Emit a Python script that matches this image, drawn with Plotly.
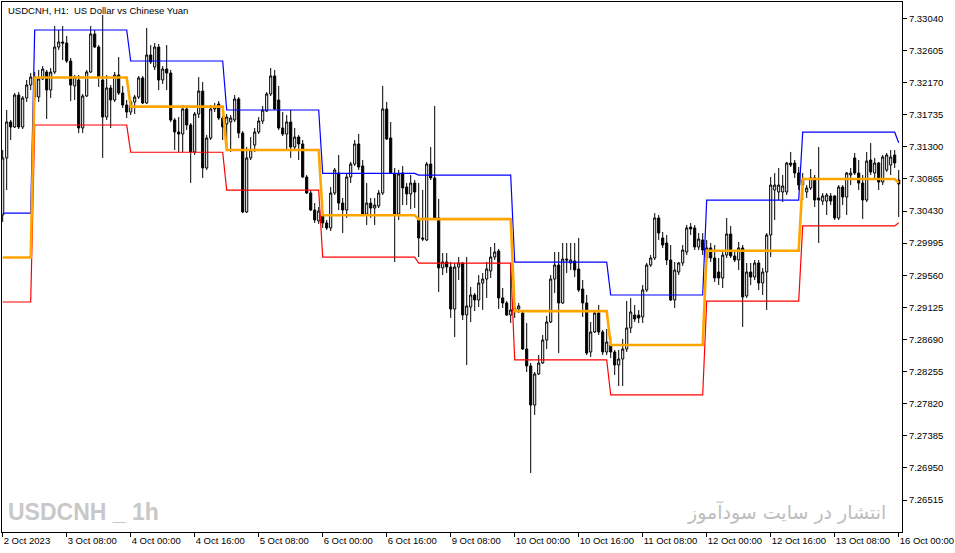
import plotly.graph_objects as go

# ---- OHLC data (USDCNH, H1) ----
open_ = [7.30376, 7.31149, 7.31636, 7.31568, 7.32001, 7.31568, 7.31961, 7.32137, 7.32245, 7.31974,
         7.32218, 7.32313, 7.32069, 7.32313, 7.32651, 7.32719, 7.32705, 7.32461, 7.32124, 7.32205,
         7.31555, 7.31988, 7.32313, 7.32828, 7.32651, 7.32205, 7.31703, 7.32097, 7.31934, 7.32272,
         7.32028, 7.31866, 7.31771, 7.31907, 7.31974, 7.32232, 7.31893, 7.32543, 7.32380, 7.32651,
         7.32205, 7.32353, 7.32299, 7.31663, 7.31500, 7.31473, 7.31812, 7.31595, 7.31230, 7.31744,
         7.32055, 7.31013, 7.31419, 7.31812, 7.31880, 7.31690, 7.31609, 7.31636, 7.31663, 7.31947,
         7.31486, 7.30417, 7.31149, 7.31324, 7.31500, 7.31649, 7.31784, 7.32015, 7.32259, 7.31934,
         7.31555, 7.31473, 7.31636, 7.31297, 7.31432, 7.31338, 7.30891, 7.30674, 7.30444, 7.30295,
         7.30363, 7.30268, 7.30201, 7.30674, 7.30945, 7.30538, 7.30444, 7.30891, 7.31067, 7.31338,
         7.31040, 7.30390, 7.30538, 7.30471, 7.30498, 7.30674, 7.31812, 7.31419, 7.30932, 7.30390,
         7.30945, 7.30755, 7.30661, 7.30809, 7.30309, 7.30065, 7.30038, 7.31067, 7.30878, 7.30336,
         7.29659, 7.29740, 7.29672, 7.29103, 7.29672, 7.29726, 7.29022, 7.29130, 7.29293, 7.29225,
         7.29455, 7.29509, 7.29617, 7.29807, 7.29888, 7.29253, 7.29184, 7.29022, 7.29090, 7.29103,
         7.29049, 7.28561, 7.28332, 7.27803, 7.28223, 7.28372, 7.28683, 7.28927, 7.29509, 7.29699,
         7.29184, 7.29780, 7.29726, 7.29753, 7.29645, 7.29374, 7.29184, 7.28521, 7.28792, 7.29049,
         7.28792, 7.28521, 7.28615, 7.28521, 7.28345, 7.28426, 7.28561, 7.28846, 7.29022, 7.29022,
         7.28995, 7.29361, 7.29699, 7.29794, 7.30336, 7.30065, 7.29997, 7.29767, 7.29225, 7.29604,
         7.29726, 7.29875, 7.30214, 7.30201, 7.29943, 7.30038, 7.29794, 7.29930, 7.29794, 7.29604,
         7.29523, 7.29834, 7.30119, 7.29821, 7.29767, 7.29930, 7.29280, 7.29604, 7.29536, 7.29726,
         7.29455, 7.29604, 7.30105, 7.30715, 7.30688, 7.30688, 7.30688, 7.31080, 7.31080, 7.30945,
         7.30782, 7.30688, 7.30742, 7.30878, 7.30607, 7.30565, 7.30565, 7.30634, 7.30634, 7.30336,
         7.30755, 7.30620, 7.30918, 7.31149, 7.30945, 7.30809, 7.30579, 7.31121, 7.30945, 7.31080,
         7.30823, 7.30986, 7.31053, 7.31189, 7.30850]

high_ = [7.31257, 7.31798, 7.31663, 7.32028, 7.32042, 7.31988, 7.32205, 7.32299, 7.32313, 7.32340,
         7.32394, 7.32340, 7.32367, 7.32936, 7.32882, 7.32936, 7.32801, 7.32503, 7.32272, 7.32272,
         7.32015, 7.32340, 7.32936, 7.32882, 7.32678, 7.33085, 7.32272, 7.32137, 7.32313, 7.32516,
         7.32124, 7.31934, 7.31934, 7.32001, 7.32259, 7.32259, 7.32909, 7.32678, 7.32705, 7.32692,
         7.32394, 7.32678, 7.32340, 7.31690, 7.31703, 7.31866, 7.31839, 7.31622, 7.31771, 7.32245,
         7.32178, 7.31459, 7.31866, 7.31893, 7.31920, 7.31717, 7.31744, 7.31730, 7.32001, 7.31974,
         7.31513, 7.31297, 7.31432, 7.31555, 7.31703, 7.31853, 7.32042, 7.32367, 7.32340, 7.32124,
         7.31771, 7.31730, 7.31798, 7.31555, 7.31459, 7.31392, 7.30918, 7.30715, 7.30538, 7.30484,
         7.30417, 7.30309, 7.30755, 7.31013, 7.31189, 7.30607, 7.30945, 7.31094, 7.31392, 7.31473,
         7.31121, 7.30809, 7.30607, 7.30607, 7.30715, 7.32124, 7.31907, 7.31636, 7.31013, 7.30986,
         7.31040, 7.30809, 7.30918, 7.30850, 7.30809, 7.30715, 7.31094, 7.31297, 7.31853, 7.30593,
         7.29861, 7.29861, 7.29740, 7.29726, 7.29807, 7.29740, 7.29807, 7.29401, 7.29320, 7.29563,
         7.29590, 7.29740, 7.29943, 7.29997, 7.29916, 7.29388, 7.29211, 7.29726, 7.29184, 7.29184,
         7.29090, 7.28913, 7.28372, 7.28250, 7.28480, 7.28751, 7.29009, 7.29563, 7.29875, 7.29875,
         7.29997, 7.29997, 7.29997, 7.29997, 7.30065, 7.29496, 7.29293, 7.28927, 7.29090, 7.29157,
         7.28819, 7.28832, 7.28724, 7.28548, 7.28548, 7.28697, 7.29211, 7.29253, 7.29157, 7.29090,
         7.29428, 7.29726, 7.29834, 7.30403, 7.30376, 7.30146, 7.30105, 7.29970, 7.29740, 7.29740,
         7.29970, 7.30241, 7.30268, 7.30241, 7.30132, 7.30132, 7.30038, 7.29997, 7.29970, 7.29794,
         7.29875, 7.30336, 7.30228, 7.29902, 7.30011, 7.29970, 7.29726, 7.29726, 7.29767, 7.29767,
         7.29659, 7.30132, 7.30891, 7.30945, 7.31013, 7.30918, 7.31094, 7.31230, 7.31121, 7.31026,
         7.30945, 7.30782, 7.30999, 7.30918, 7.31297, 7.30674, 7.30674, 7.30674, 7.30647, 7.30782,
         7.30782, 7.30959, 7.31013, 7.31216, 7.31121, 7.30918, 7.31230, 7.31351, 7.31149, 7.31094,
         7.31189, 7.31216, 7.31257, 7.31257, 7.30986]

low_ = [7.30282, 7.30715, 7.31392, 7.31555, 7.31541, 7.31541, 7.31907, 7.32069, 7.31934, 7.31907,
        7.32205, 7.31676, 7.31961, 7.32286, 7.32611, 7.32475, 7.32434, 7.31920, 7.31934, 7.31486,
        7.31486, 7.31974, 7.32299, 7.32638, 7.32110, 7.31149, 7.31663, 7.31555, 7.31907, 7.32001,
        7.31826, 7.31690, 7.31730, 7.31744, 7.31947, 7.31880, 7.31880, 7.32421, 7.32340, 7.32069,
        7.32151, 7.32069, 7.31636, 7.31257, 7.31230, 7.31230, 7.31527, 7.30809, 7.31189, 7.31690,
        7.30878, 7.30986, 7.31392, 7.31771, 7.31663, 7.31392, 7.31257, 7.31230, 7.31636, 7.31419,
        7.30403, 7.30403, 7.31121, 7.31230, 7.31473, 7.31609, 7.31771, 7.31988, 7.31798, 7.31527,
        7.31446, 7.31257, 7.31149, 7.31257, 7.31121, 7.30878, 7.30661, 7.30430, 7.30268, 7.30255,
        7.30201, 7.30173, 7.30159, 7.30647, 7.30444, 7.30132, 7.30336, 7.30809, 7.31040, 7.30986,
        7.30376, 7.30241, 7.30336, 7.30241, 7.30471, 7.30647, 7.31392, 7.30932, 7.29740, 7.30309,
        7.30511, 7.30511, 7.30457, 7.30471, 7.29807, 7.30024, 7.30024, 7.30850, 7.30309, 7.29334,
        7.29563, 7.29590, 7.28982, 7.28724, 7.29496, 7.28954, 7.28345, 7.28927, 7.29076, 7.29130,
        7.29090, 7.29253, 7.29523, 7.29767, 7.29103, 7.29117, 7.29009, 7.28913, 7.28982, 7.29049,
        7.28548, 7.28250, 7.26882, 7.27667, 7.28209, 7.28359, 7.28561, 7.28913, 7.29320, 7.28507,
        7.29171, 7.29590, 7.29631, 7.29536, 7.29334, 7.28995, 7.28480, 7.28453, 7.28778, 7.28751,
        7.28480, 7.28480, 7.28440, 7.28209, 7.28061, 7.28061, 7.28521, 7.28778, 7.28927, 7.28913,
        7.28913, 7.29334, 7.29672, 7.29767, 7.30038, 7.29930, 7.29699, 7.29211, 7.29117, 7.29563,
        7.29686, 7.29834, 7.30105, 7.29902, 7.29902, 7.29834, 7.29740, 7.29740, 7.29469, 7.29428,
        7.29388, 7.29794, 7.29794, 7.29740, 7.29631, 7.28859, 7.29253, 7.29428, 7.29496, 7.29361,
        7.29293, 7.29090, 7.29807, 7.30309, 7.30579, 7.30552, 7.30647, 7.31026, 7.30878, 7.30715,
        7.30579, 7.30607, 7.30715, 7.30484, 7.29997, 7.30511, 7.30376, 7.30511, 7.30309, 7.30309,
        7.30511, 7.30376, 7.30782, 7.30918, 7.30715, 7.30322, 7.30552, 7.30918, 7.30850, 7.30715,
        7.30782, 7.30959, 7.30918, 7.31013, 7.30349]

close_ = [7.31149, 7.31636, 7.31568, 7.32001, 7.31568, 7.31961, 7.32137, 7.32245, 7.31974, 7.32218,
          7.32353, 7.32069, 7.32313, 7.32651, 7.32719, 7.32705, 7.32461, 7.32137, 7.32245, 7.31555,
          7.31988, 7.32313, 7.32828, 7.32651, 7.32245, 7.31703, 7.32097, 7.31934, 7.32272, 7.32028,
          7.31866, 7.31771, 7.31907, 7.31974, 7.32232, 7.31893, 7.32543, 7.32448, 7.32651, 7.32205,
          7.32353, 7.32299, 7.31663, 7.31500, 7.31473, 7.31812, 7.31595, 7.31230, 7.31744, 7.32055,
          7.31013, 7.31419, 7.31812, 7.31839, 7.31690, 7.31568, 7.31703, 7.31690, 7.31947, 7.31486,
          7.30417, 7.31149, 7.31257, 7.31500, 7.31649, 7.31798, 7.32015, 7.32259, 7.31812, 7.31555,
          7.31473, 7.31636, 7.31297, 7.31432, 7.31338, 7.30891, 7.30674, 7.30444, 7.30309, 7.30430,
          7.30268, 7.30201, 7.30674, 7.30986, 7.30538, 7.30444, 7.30891, 7.31067, 7.31338, 7.31026,
          7.30390, 7.30538, 7.30471, 7.30511, 7.30674, 7.31812, 7.31405, 7.30945, 7.30390, 7.30932,
          7.30742, 7.30661, 7.30809, 7.30688, 7.30065, 7.30051, 7.31067, 7.30878, 7.30336, 7.29659,
          7.29740, 7.29672, 7.29103, 7.29672, 7.29726, 7.29022, 7.29144, 7.29293, 7.29225, 7.29455,
          7.29509, 7.29645, 7.29807, 7.29875, 7.29253, 7.29184, 7.29022, 7.29090, 7.29117, 7.29144,
          7.28561, 7.28332, 7.27803, 7.28223, 7.28372, 7.28683, 7.28927, 7.29509, 7.29699, 7.29184,
          7.29780, 7.29767, 7.29767, 7.29631, 7.29361, 7.29184, 7.28507, 7.28792, 7.29049, 7.28792,
          7.28521, 7.28656, 7.28521, 7.28345, 7.28426, 7.28561, 7.28846, 7.29063, 7.28968, 7.28982,
          7.29361, 7.29699, 7.29794, 7.30336, 7.30132, 7.29970, 7.29767, 7.29225, 7.29631, 7.29726,
          7.29902, 7.30201, 7.30187, 7.29943, 7.30051, 7.29902, 7.29930, 7.29794, 7.29523, 7.29523,
          7.29834, 7.30119, 7.29821, 7.29767, 7.29930, 7.29266, 7.29604, 7.29536, 7.29726, 7.29455,
          7.29604, 7.30105, 7.30782, 7.30782, 7.30782, 7.30769, 7.31080, 7.31053, 7.30945, 7.30782,
          7.30850, 7.30742, 7.30878, 7.30579, 7.30579, 7.30634, 7.30647, 7.30565, 7.30336, 7.30755,
          7.30620, 7.30945, 7.30945, 7.30945, 7.30809, 7.30579, 7.31107, 7.30959, 7.31080, 7.30823,
          7.31162, 7.31189, 7.31162, 7.31080, 7.30796]

# ---- daily levels of the indicator (one value per trading day) ----
day_start = [0, 8, 32, 56, 80, 104, 128, 152, 176, 200, 224]   # first bar of each day
day_upper = [7.30403, 7.32882, 7.32462, 7.31798, 7.30940, 7.30916, 7.29738, 7.29293, 7.30577, 7.31498, 7.31355]
day_lower = [7.29198, 7.31595, 7.31226, 7.30713, 7.29805, 7.29724, 7.28413, 7.27939, 7.29209, 7.30228, 7.30272]
day_mid   = [7.29800, 7.32238, 7.31844, 7.31256, 7.30372, 7.30320, 7.29075, 7.28616, 7.29893, 7.30863, 7.30814]

# ---- axis ticks ----
x_tick_pos = [0, 16, 32, 48, 64, 80, 96, 112, 128, 144, 160, 176, 192, 208, 224]
x_tick_text = ["2 Oct 2023", "3 Oct 08:00", "4 Oct 00:00", "4 Oct 16:00", "5 Oct 08:00",
               "6 Oct 00:00", "6 Oct 16:00", "9 Oct 08:00", "10 Oct 00:00", "10 Oct 16:00",
               "11 Oct 08:00", "12 Oct 00:00", "12 Oct 16:00", "13 Oct 08:00", "16 Oct 00:00"]
y_ticks = [7.33040, 7.32605, 7.32170, 7.31735, 7.31300, 7.30865, 7.30430, 7.29995,
           7.29560, 7.29125, 7.28690, 7.28255, 7.27820, 7.27385, 7.26950, 7.26515]

n = len(open_)
xs = list(range(n))


def day_of(i):
    k = 0
    for j, s in enumerate(day_start):
        if i >= s:
            k = j
    return k


upper_line = [day_upper[day_of(i)] for i in xs]
lower_line = [day_lower[day_of(i)] for i in xs]
mid_line = [day_mid[day_of(i)] for i in xs]

fig = go.Figure()
fig.add_trace(go.Candlestick(
    x=xs, open=open_, high=high_, low=low_, close=close_,
    increasing=dict(line=dict(color="black", width=1), fillcolor="white"),
    decreasing=dict(line=dict(color="black", width=1), fillcolor="black"),
    whiskerwidth=0, showlegend=False, hoverinfo="skip"))

for vals, col, w in [(upper_line, "#0000FF", 1.2), (lower_line, "#FF0000", 1.2), (mid_line, "#FFA500", 2.6)]:
    fig.add_trace(go.Scatter(x=xs, y=vals, mode="lines", line=dict(color=col, width=w),
                             showlegend=False, hoverinfo="skip"))

x_font = dict(family="Liberation Sans Narrow, Liberation Sans, Arial, sans-serif", size=9.5, color="black")
y_font = dict(family="Liberation Sans, Arial, sans-serif", size=9.5, color="black")

fig.update_layout(
    width=955, height=553,
    margin=dict(l=2, r=53, t=2, b=21, autoexpand=False),
    paper_bgcolor="white", plot_bgcolor="white",
    showlegend=False, boxgap=0.25,
    annotations=[
        dict(text="USDCNH, H1:  US Dollar vs Chinese Yuan", xref="paper", yref="paper",
             x=0.0045, y=0.998, xanchor="left", yanchor="top", showarrow=False,
             font=dict(family="Liberation Sans, Arial, sans-serif", size=9.5, color="black")),
        dict(text="<b>USDCNH _ 1h</b>", xref="paper", yref="paper",
             x=0.0045, y=0.038, xanchor="left", yanchor="middle", showarrow=False,
             font=dict(family="Liberation Sans, Arial, sans-serif", size=23, color="#C8C8C8")),
        dict(text="انتشار در سایت سودآموز", xref="paper", yref="paper",
             x=0.9845, y=0.038, xanchor="right", yanchor="middle", showarrow=False,
             font=dict(family="DejaVu Sans, sans-serif", size=19, color="#BDBDBD")),
    ],
)

fig.update_xaxes(
    range=[-0.175, 224.825], rangeslider_visible=False, automargin=False,
    showgrid=False, zeroline=False,
    showline=True, linecolor="black", linewidth=1, mirror=True,
    ticks="outside", ticklen=4, tickcolor="black", tickwidth=1,
    tickmode="array", tickvals=x_tick_pos, ticktext=x_tick_text,
    ticklabelposition="outside right", tickfont=x_font,
)
fig.update_yaxes(
    side="right", range=[7.26083, 7.33261], automargin=False,
    showgrid=False, zeroline=False,
    showline=True, linecolor="black", linewidth=1, mirror=True,
    ticks="outside", ticklen=4, tickcolor="black", tickwidth=1,
    tickmode="array", tickvals=y_ticks, ticktext=["%.5f" % v for v in y_ticks],
    tickfont=y_font,
)

fig.write_html("out.html", config={"displayModeBar": False},
               post_script="document.body.style.margin='0';document.body.style.padding='0';")
